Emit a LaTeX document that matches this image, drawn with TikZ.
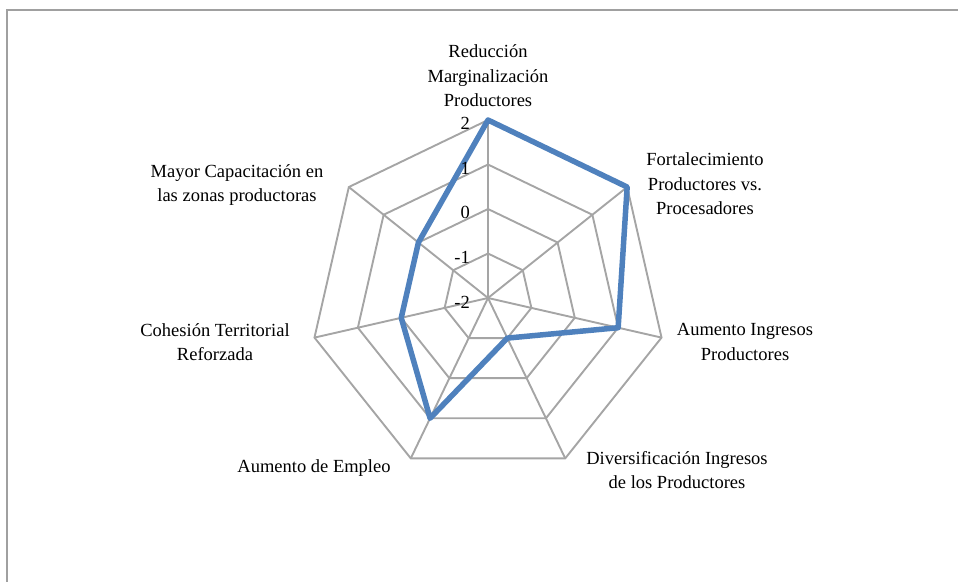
\documentclass[tikz,border=0pt]{standalone}
\usepackage{fontspec}
\setmainfont{Liberation Serif}
\definecolor{gridgray}{RGB}{165,165,165}
\definecolor{framegray}{RGB}{160,160,160}
\definecolor{seriesblue}{RGB}{79,129,189}
\begin{document}
\begin{tikzpicture}[x=1pt,y=1pt,
  gridline/.style={draw=gridgray, line width=1.9pt},
  series/.style={draw=seriesblue, line width=5.5pt, line join=round},
  catlabel/.style={font=\fontsize{18.5}{24.5}\selectfont, align=center, inner sep=0pt},
  ticklabel/.style={font=\fontsize{18.5}{20}\selectfont, anchor=east, inner sep=0pt},
  framestyle/.style={draw=framegray, line width=2.8pt}]
\useasboundingbox (0,-581) rectangle (958,0);
\draw[framestyle] (7,-583) -- (7,-10) -- (960,-10);
\coordinate (O) at (488,-298);
\begin{scope}[shift={(O)}]
  \foreach \r in {1,2,3,4} {
    \draw[gridline] (90:{44.5*\r}) \foreach \i in {1,...,6} { -- ({90-\i*360/7}:{44.5*\r}) } -- cycle;
  }
  \foreach \i in {0,...,6} {
    \draw[gridline] (0,0) -- ({90-\i*360/7}:178) coordinate (ax\i);
  }
  \foreach \i/\v in {0/4,1/4,2/3,3/1,4/3,5/2,6/2} {
    \coordinate (s\i) at ({90-\i*360/7}:{\v*44.5});
  }
\end{scope}
\draw[series] (s0) -- (s1) -- (s2) -- (s3) -- (s4) -- (s5) -- (s6) -- cycle;
\node[ticklabel] (t2) at (470,-123) {2};
\node[ticklabel] (t1) at (470,-168) {1};
\node[ticklabel] (t0) at (470,-212) {0};
\node[ticklabel] (tm1) at (470,-257) {-1};
\node[ticklabel] (tm2) at (470,-302) {-2};
\node[catlabel] (c1) at (488,-76) {Reducción\\Marginalización\\Productores};
\node[catlabel] (c2) at (705,-184) {Fortalecimiento\\Productores vs.\\Procesadores};
\node[catlabel] (c3) at (745,-342) {Aumento Ingresos\\Productores};
\node[catlabel] (c4) at (677,-470) {Diversificación Ingresos\\de los Productores};
\node[catlabel] (c5) at (314,-468) {Aumento de Empleo};
\node[catlabel] (c6) at (215,-342) {Cohesión Territorial\\Reforzada};
\node[catlabel] (c7) at (237,-185) {Mayor Capacitación en\\las zonas productoras};
\end{tikzpicture}
\end{document}
